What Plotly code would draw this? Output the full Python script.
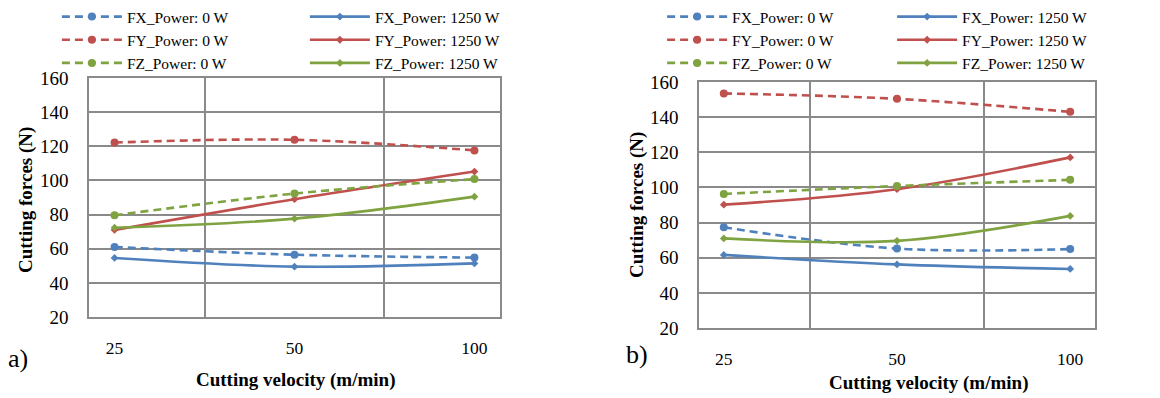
import plotly.graph_objects as go

# ---------------- data ----------------
velocities = ["25", "50", "100"]

# chart a)
a_fx_0 = [61.0, 56.5, 54.8]
a_fx_1250 = [54.6, 49.5, 51.4]
a_fy_0 = [122.2, 123.8, 117.6]
a_fy_1250 = [71.0, 89.0, 105.2]
a_fz_0 = [79.6, 92.3, 100.8]
a_fz_1250 = [72.3, 77.6, 90.5]

# chart b)
b_fx_0 = [77.3, 65.2, 64.9]
b_fx_1250 = [61.6, 56.2, 53.6]
b_fy_0 = [153.5, 150.4, 143.0]
b_fy_1250 = [90.2, 99.0, 117.1]
b_fz_0 = [96.3, 100.8, 104.3]
b_fz_1250 = [71.0, 69.6, 83.8]

names = ["FX_Power: 0 W", "FX_Power: 1250 W",
         "FY_Power: 0 W", "FY_Power: 1250 W",
         "FZ_Power: 0 W", "FZ_Power: 1250 W"]

BLUE, RED, GREEN = "#4F81BD", "#C0504D", "#7FA340"
SERIF = "Liberation Serif"

W, H = 1160, 398
ML, MR = 57, 38
PW = W - ML - MR


def px_x(p):
    return (p - ML) / PW


def px_y(p):
    return (H - p) / H


fig = go.Figure()


def add_series(vals, name, color, dashed, xa, ya, legend):
    fig.add_trace(go.Scatter(
        x=velocities, y=vals, name=name, mode="lines+markers",
        xaxis=xa, yaxis=ya, legend=legend,
        line=dict(color=color, width=2.6, shape="spline", smoothing=1,
                  dash="8px,5px" if dashed else "solid"),
        marker=dict(color=color, size=8 if dashed else 6,
                    symbol="circle" if dashed else "diamond"),
    ))


sets = {
    "a": [a_fx_0, a_fx_1250, a_fy_0, a_fy_1250, a_fz_0, a_fz_1250],
    "b": [b_fx_0, b_fx_1250, b_fy_0, b_fy_1250, b_fz_0, b_fz_1250],
}
colors = [BLUE, BLUE, RED, RED, GREEN, GREEN]
for key, xa, ya, lg in [("a", "x", "y", "legend"), ("b", "x2", "y2", "legend2")]:
    for i, vals in enumerate(sets[key]):
        add_series(vals, names[i], colors[i], i % 2 == 0, xa, ya, lg)

GRID = "#8a8a8a"
common_x = dict(type="category", tickson="boundaries", showgrid=True,
                gridcolor=GRID, gridwidth=1.5, showline=True, linecolor=GRID,
                linewidth=1.5, mirror=True, ticks="", zeroline=False,
                tickfont=dict(family=SERIF, size=17.5, color="black"),
                ticklabelstandoff=14, fixedrange=True)
common_y = dict(range=[20, 160], dtick=20, showgrid=True, gridcolor=GRID,
                gridwidth=1.5, showline=True, linecolor=GRID, linewidth=1.5,
                mirror=True, ticks="", zeroline=False,
                tickfont=dict(family=SERIF, size=19, color="black"),
                ticklabelstandoff=15, fixedrange=True)

legend_common = dict(orientation="h", entrywidthmode="pixels", itemwidth=60,
                     font=dict(family=SERIF, size=15.5, color="black"),
                     bgcolor="rgba(0,0,0,0)", borderwidth=0,
                     yanchor="top", y=1, traceorder="normal")

fig.update_layout(
    width=W, height=H,
    margin=dict(l=ML, r=MR, t=0, b=0, autoexpand=False),
    paper_bgcolor="white", plot_bgcolor="white",
    xaxis=dict(domain=[px_x(89), px_x(500)], anchor="y", **common_x),
    yaxis=dict(domain=[px_y(317), px_y(78)], anchor="x", **common_y),
    xaxis2=dict(domain=[px_x(699), px_x(1095)], anchor="y2", **common_x),
    yaxis2=dict(domain=[px_y(328), px_y(82)], anchor="x2", **common_y),
    legend=dict(x=-0.0001, xanchor="left", entrywidth=173, **legend_common),
    legend2=dict(x=1.0001, xanchor="right", entrywidth=155, **legend_common),
    showlegend=True,
)

annots = [
    ("a)", 18, 358, 26, False, 0),
    ("b)", 637, 354, 26, False, 0),
    ("Cutting velocity (m/min)", 295, 380, 19, True, 0),
    ("Cutting velocity (m/min)", 928, 383, 19, True, 0),
    ("Cutting forces (N)", 26, 200, 19, True, -90),
    ("Cutting forces (N)", 637, 205, 19, True, -90),
]
for text, x, y, size, bold, rot in annots:
    fig.add_annotation(
        text=f"<b>{text}</b>" if bold else text,
        x=px_x(x), y=px_y(y), xref="paper", yref="paper",
        xanchor="center", yanchor="middle", showarrow=False, textangle=rot,
        font=dict(family=SERIF, size=size, color="black"),
    )

fig.write_html("out.html", config={"displayModeBar": False},
               post_script="document.body.style.margin='0';")
